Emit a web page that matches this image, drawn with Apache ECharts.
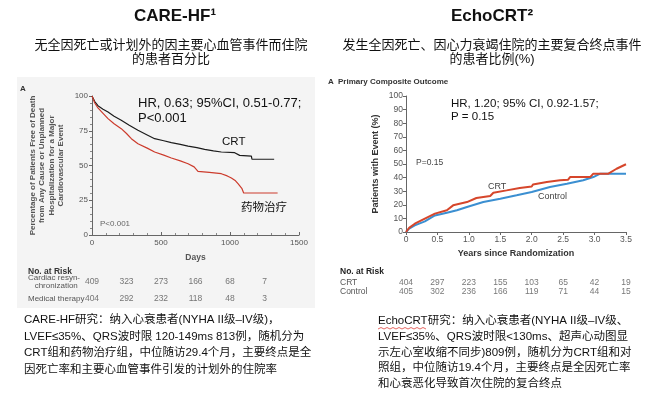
<!DOCTYPE html>
<html>
<head>
<meta charset="utf-8">
<script src="https://cdn.jsdelivr.net/npm/echarts@6/dist/echarts.min.js"></script>
<style>
  html, body { margin: 0; background: #fff; }
  #chart { width: 655px; height: 399px; }
</style>
</head>
<body>
<div id="chart"></div>
<script>
// CARE-HF: percentage free of death / unplanned hospitalization
const careCrtDays = [0, 20, 43, 80, 116, 160, 212, 270, 333, 400, 454, 520, 575, 640, 696, 760, 816, 880, 937, 1034, 1045, 1070, 1155, 1159, 1320];
const careCrtPct = [100, 96, 93, 90.5, 88.5, 85.5, 82.5, 79, 75.3, 72, 69.3, 67.8, 66.4, 65.2, 64, 62.8, 61.6, 60.5, 59.7, 59.2, 58, 57.3, 56.8, 54.5, 54.5];
const careMedDays = [0, 20, 43, 80, 116, 160, 212, 250, 285, 333, 400, 454, 520, 575, 640, 696, 740, 768, 850, 937, 980, 1010, 1040, 1058, 1087, 1099, 1345];
const careMedPct = [100, 95, 91.4, 87.5, 83.7, 80, 76.5, 73, 69.3, 65.7, 62.5, 59.7, 57.5, 55.4, 53.3, 51.3, 49, 45.8, 45, 44.1, 42.5, 41, 39, 36.9, 33.3, 30.2, 30.2];
const careRiskDays = [0, 250, 500, 750, 1000, 1250];
const careRiskCrt = [409, 323, 273, 166, 68, 7];
const careRiskMed = [404, 292, 232, 118, 48, 3];
const careRiskRows = ["Cardiac resyn-\n   chronization", "Medical therapy"];

// EchoCRT: patients with primary composite event (%)
const echoCrtYears = [0, 0.05, 0.14, 0.3, 0.46, 0.65, 0.75, 0.97, 1.12, 1.34, 1.39, 1.6, 1.81, 2.0, 2.02, 2.24, 2.45, 2.58, 2.61, 2.93, 2.98, 3.22, 3.35, 3.5];
const echoCrtPct = [0, 3, 6.1, 9.8, 13.5, 16, 19.6, 22, 25, 26.5, 28.9, 30.6, 32.4, 33.5, 35, 36.8, 38, 38.5, 40.4, 40.4, 42.9, 42.9, 46.5, 49.8];
const echoCtrlYears = [0, 0.05, 0.14, 0.3, 0.46, 0.65, 0.81, 0.97, 1.23, 1.5, 1.76, 2.0, 2.29, 2.56, 2.82, 2.98, 3.09, 3.5];
const echoCtrlPct = [0, 2.5, 4.9, 7.8, 12.2, 14.2, 16, 18.4, 22, 24.5, 27, 29.4, 33.1, 35.5, 38, 40.4, 42.9, 42.9];
const echoRiskYears = [0, 0.5, 1.0, 1.5, 2.0, 2.5, 3.0, 3.5];
const echoRiskCrt = [404, 297, 223, 155, 103, 65, 42, 19];
const echoRiskCtrl = [405, 302, 236, 166, 119, 71, 44, 15];
const echoRiskRows = ["CRT", "Control"];

const SANS = "'Liberation Sans', 'Noto Sans CJK SC', sans-serif";
const CJK = "'Liberation Sans', 'Noto Sans CJK SC', sans-serif";
const AXIS_GREY = "#555";

const zip = (xs, ys) => xs.map((x, i) => [x, ys[i]]);

function riskData(xs, counts, row) {
  return xs.map((x, i) => [x, row, counts[i]]);
}

function riskSeries(xIdx, yIdx, data, size) {
  return {
    type: "scatter",
    xAxisIndex: xIdx,
    yAxisIndex: yIdx,
    symbolSize: 1,
    itemStyle: { color: "rgba(0,0,0,0)" },
    silent: true,
    label: {
      show: true,
      position: "inside",
      formatter: (p) => String(p.value[2]),
      color: "#555",
      fontSize: size,
      fontFamily: SANS,
    },
    labelLayout: { hideOverlap: false },
    data,
  };
}

function txt(text, x, y, font, extra) {
  return {
    type: "text",
    silent: true,
    style: Object.assign(
      { text, x, y, font, fill: "#111", textAlign: "left", textVerticalAlign: "middle" },
      extra || {}
    ),
  };
}

const chart = echarts.init(document.getElementById("chart"), null, { renderer: "canvas" });

const option = {
  animation: false,
  backgroundColor: "#fff",
  grid: [
    { left: 92, top: 96, width: 207, height: 139, outerBoundsMode: "none" },
    { left: 406, top: 96, width: 220, height: 136, outerBoundsMode: "none" },
    { left: 92, top: 273.5, width: 207, height: 34, outerBoundsMode: "none" },
    { left: 406, top: 277.8, width: 220, height: 18, outerBoundsMode: "none" },
  ],
  xAxis: [
    {
      gridIndex: 0, type: "value", min: 0, max: 1500, interval: 500,
      name: "Days", nameLocation: "middle", nameGap: 18,
      nameTextStyle: { color: "#555", fontSize: 8.5, fontWeight: "bold", fontFamily: SANS },
      axisLine: { lineStyle: { color: "#666" } },
      axisTick: { inside: true, length: 3, lineStyle: { color: "#666" } },
      minorTick: { show: true, splitNumber: 5, length: 2, lineStyle: { color: "#888" } },
      axisLabel: { color: AXIS_GREY, fontSize: 8, margin: 4, fontFamily: SANS, formatter: (v) => String(v) },
      splitLine: { show: false },
    },
    {
      gridIndex: 1, type: "value", min: 0, max: 3.5, interval: 0.5,
      name: "Years since Randomization", nameLocation: "middle", nameGap: 17,
      nameTextStyle: { color: "#333", fontSize: 9, fontWeight: "bold", fontFamily: SANS },
      axisLine: { lineStyle: { color: "#666" } },
      axisTick: { length: 3, lineStyle: { color: "#666" } },
      axisLabel: {
        color: AXIS_GREY, fontSize: 8.5, margin: 3, fontFamily: SANS,
        formatter: (v) => (v === 0 ? "0" : v.toFixed(1)),
      },
      splitLine: { show: false },
    },
    { gridIndex: 2, type: "value", min: 0, max: 1500, show: false },
    { gridIndex: 3, type: "value", min: 0, max: 3.5, show: false },
  ],
  yAxis: [
    {
      gridIndex: 0, type: "value", min: 0, max: 100, interval: 25,
      name: "Percentage of Patients Free of Death\nfrom Any Cause or Unplanned\nHospitalization for a Major\nCardiovascular Event",
      nameLocation: "middle", nameGap: 26, nameRotate: 90,
      nameTextStyle: { color: "#555", fontSize: 8, fontWeight: "bold", lineHeight: 9.5, fontFamily: SANS },
      axisLine: { show: true, lineStyle: { color: "#666" } },
      axisTick: { show: true, length: 3, lineStyle: { color: "#666" } },
      minorTick: { show: true, splitNumber: 5, length: 2, lineStyle: { color: "#888" } },
      axisLabel: { color: AXIS_GREY, fontSize: 8, margin: 4, fontFamily: SANS },
      splitLine: { show: false },
    },
    {
      gridIndex: 1, type: "value", min: 0, max: 100, interval: 10,
      name: "Patients with Event (%)", nameLocation: "middle", nameGap: 26, nameRotate: 90,
      nameTextStyle: { color: "#333", fontSize: 9, fontWeight: "bold", fontFamily: SANS },
      axisLine: { show: true, lineStyle: { color: "#666" } },
      axisTick: { show: true, length: 3, lineStyle: { color: "#666" } },
      axisLabel: { color: AXIS_GREY, fontSize: 8.5, margin: 3, fontFamily: SANS },
      splitLine: { show: false },
    },
    {
      gridIndex: 2, type: "category", inverse: true, data: careRiskRows,
      axisLine: { show: false }, axisTick: { show: false },
      axisLabel: {
        interval: 0, hideOverlap: false,
        align: "left", margin: 64, color: "#555", fontSize: 8, lineHeight: 8, fontFamily: SANS,
        padding: [6, 0, 0, 0],
      },
    },
    {
      gridIndex: 3, type: "category", inverse: true, data: echoRiskRows,
      axisLine: { show: false }, axisTick: { show: false },
      axisLabel: {
        interval: 0, hideOverlap: false,
        align: "left", margin: 66, color: "#555", fontSize: 8.5, fontFamily: SANS,
      },
    },
  ],
  series: [
    {
      type: "line", xAxisIndex: 0, yAxisIndex: 0, showSymbol: false, silent: true,
      lineStyle: { color: "#1c1c1c", width: 1.2 }, data: zip(careCrtDays, careCrtPct),
    },
    {
      type: "line", xAxisIndex: 0, yAxisIndex: 0, showSymbol: false, silent: true,
      lineStyle: { color: "#cc3b2c", width: 1.2 }, data: zip(careMedDays, careMedPct),
    },
    {
      type: "line", xAxisIndex: 1, yAxisIndex: 1, showSymbol: false, silent: true,
      lineStyle: { color: "#3b8fd1", width: 2 }, data: zip(echoCtrlYears, echoCtrlPct),
    },
    {
      type: "line", xAxisIndex: 1, yAxisIndex: 1, showSymbol: false, silent: true,
      lineStyle: { color: "#d6462b", width: 2 }, data: zip(echoCrtYears, echoCrtPct),
    },
    riskSeries(2, 2, riskData(careRiskDays, careRiskCrt, careRiskRows[0]).concat(
      riskData(careRiskDays, careRiskMed, careRiskRows[1])), 8.5),
    riskSeries(3, 3, riskData(echoRiskYears, echoRiskCrt, echoRiskRows[0]).concat(
      riskData(echoRiskYears, echoRiskCtrl, echoRiskRows[1])), 8.5),
  ],
  graphic: [
    // grey panel behind the CARE-HF figure
    { type: "rect", z: -10, silent: true, shape: { x: 17, y: 77, width: 298, height: 231 }, style: { fill: "#f4f4f4" } },

    // titles
    txt("CARE-HF¹", 175, 16.5, "bold 17px " + SANS, { textAlign: "center" }),
    txt("EchoCRT²", 492, 16.5, "bold 17px " + SANS, { textAlign: "center" }),
    txt("无全因死亡或计划外的因主要心血管事件而住院\n的患者百分比", 171, 52.5, "13px " + CJK,
      { textAlign: "center", lineHeight: 14 }),
    txt("发生全因死亡、因心力衰竭住院的主要复合终点事件\n的患者比例(%)", 492, 52.5, "13px " + CJK,
      { textAlign: "center", lineHeight: 14 }),

    // CARE-HF annotations
    txt("A", 20, 89, "bold 8px " + SANS, { fill: "#333" }),
    txt("HR, 0.63; 95%CI, 0.51-0.77;\nP<0.001", 138, 111, "13px " + SANS, { lineHeight: 14.5 }),
    txt("CRT", 222, 142, "11.5px " + SANS),
    txt("药物治疗", 241, 208, "11.5px " + CJK),
    txt("P<0.001", 100, 224, "8px " + SANS, { fill: "#666" }),
    txt("No. at Risk", 28, 272, "bold 8.5px " + SANS, { fill: "#333" }),

    // EchoCRT annotations
    txt("A", 328, 82, "bold 8px " + SANS, { fill: "#333" }),
    txt("Primary Composite Outcome", 338, 82, "bold 8px " + SANS, { fill: "#333" }),
    txt("HR, 1.20; 95% CI, 0.92-1.57;\nP = 0.15", 451, 110.5, "11.5px " + SANS, { lineHeight: 13.5 }),
    txt("P=0.15", 416, 163, "8.5px " + SANS, { fill: "#444" }),
    txt("CRT", 488, 187, "9px " + SANS, { fill: "#444" }),
    txt("Control", 538, 197, "9px " + SANS, { fill: "#444" }),
    txt("No. at Risk", 340, 272, "bold 8.5px " + SANS, { fill: "#222" }),

    // study descriptions
    txt("CARE-HF研究：纳入心衰患者(NYHA II级–IV级)，\nLVEF≤35%、QRS波时限 120-149ms 813例，随机分为\nCRT组和药物治疗组，中位随访29.4个月，主要终点是全\n因死亡率和主要心血管事件引发的计划外的住院率",
      24, 312, "11.5px " + CJK, { textVerticalAlign: "top", lineHeight: 16.5 }),
    txt("EchoCRT研究：纳入心衰患者(NYHA II级–IV级、\nLVEF≤35%、QRS波时限<130ms、超声心动图显\n示左心室收缩不同步)809例，随机分为CRT组和对\n照组，中位随访19.4个月，主要终点是全因死亡率\n和心衰恶化导致首次住院的复合终点",
      378, 313, "11.5px " + CJK, { textVerticalAlign: "top", lineHeight: 15.8 }),
    {
      type: "polyline", silent: true,
      shape: { points: [[378, 329], [381, 327.5], [384, 329], [387, 327.5], [390, 329], [393, 327.5], [396, 329], [399, 327.5], [402, 329], [405, 327.5], [408, 329], [411, 327.5], [414, 329], [417, 327.5], [420, 329], [423, 327.5], [426, 329]] },
      style: { stroke: "#e0403a", lineWidth: 0.8, fill: null },
    },
  ],
};

chart.setOption(option);
</script>
</body>
</html>
